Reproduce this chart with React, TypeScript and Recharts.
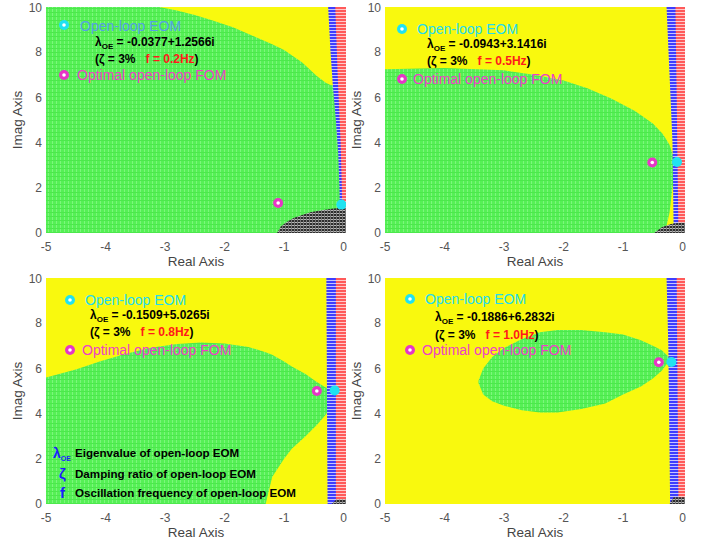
import React from "react";
import { ComposedChart, Area, Scatter, XAxis, YAxis } from "recharts";

type Pt = { x: number; y: [number, number] };
type Mark = { x: number; y: number };

const xTicks = [-5, -4, -3, -2, -1, 0];
const yTicks = [0, 2, 4, 6, 8, 10];
const xMax = 0.04;

const fullPlane: Pt[] = [
  { x: -5, y: [0, 10] },
  { x: xMax, y: [0, 10] },
];

// f = 0.2 Hz
const p1Yellow: Pt[] = [
  { x: -3.1, y: [10, 10] },
  { x: -2.8, y: [9.85, 10] },
  { x: -2.5, y: [9.65, 10] },
  { x: -2.2, y: [9.4, 10] },
  { x: -1.86, y: [9.1, 10] },
  { x: -1.5, y: [8.7, 10] },
  { x: -1.2, y: [8.35, 10] },
  { x: -1.0, y: [8.1, 10] },
  { x: -0.7, y: [7.55, 10] },
  { x: -0.45, y: [6.95, 10] },
  { x: -0.3, y: [6.65, 10] },
  { x: -0.22, y: [6.55, 10] },
  { x: -0.1, y: [6.5, 10] },
];
const p1Blue: Pt[] = [
  { x: -0.26, y: [10, 10] },
  { x: -0.22, y: [8, 10] },
  { x: -0.18, y: [6.5, 10] },
  { x: -0.13, y: [5, 10] },
  { x: -0.09, y: [3.5, 10] },
  { x: -0.07, y: [2, 10] },
  { x: -0.06, y: [0, 10] },
  { x: xMax, y: [0, 10] },
];
const p1Red: Pt[] = [
  { x: -0.14, y: [10, 10] },
  { x: -0.1, y: [7, 10] },
  { x: -0.05, y: [4, 10] },
  { x: -0.03, y: [2, 10] },
  { x: -0.02, y: [0, 10] },
  { x: xMax, y: [0, 10] },
];
const p1Black: Pt[] = [
  { x: -1.12, y: [0, 0] },
  { x: -1.05, y: [0, 0.3] },
  { x: -0.95, y: [0, 0.5] },
  { x: -0.84, y: [0, 0.66] },
  { x: -0.7, y: [0, 0.8] },
  { x: -0.56, y: [0, 0.92] },
  { x: -0.4, y: [0, 1.0] },
  { x: -0.2, y: [0, 1.07] },
  { x: -0.05, y: [0, 1.12] },
  { x: xMax, y: [0, 1.12] },
];

// f = 0.5 Hz
const p2Green: Pt[] = [
  { x: -5, y: [0, 7.25] },
  { x: -4, y: [0, 7.3] },
  { x: -3, y: [0, 7.2] },
  { x: -2.5, y: [0, 7.0] },
  { x: -2, y: [0, 6.75] },
  { x: -1.6, y: [0, 6.4] },
  { x: -1.2, y: [0, 5.95] },
  { x: -0.8, y: [0, 5.4] },
  { x: -0.5, y: [0, 4.85] },
  { x: -0.34, y: [0, 4.4] },
  { x: -0.29, y: [0.1, 4.2] },
  { x: -0.22, y: [0.9, 3.9] },
  { x: -0.17, y: [2.0, 3.5] },
  { x: -0.12, y: [2.8, 3.3] },
];
const p2Blue: Pt[] = [
  { x: -0.27, y: [10, 10] },
  { x: -0.22, y: [7, 10] },
  { x: -0.17, y: [4, 10] },
  { x: -0.15, y: [0, 10] },
  { x: xMax, y: [0, 10] },
];
const p2Red: Pt[] = [
  { x: -0.12, y: [10, 10] },
  { x: -0.1, y: [6, 10] },
  { x: -0.07, y: [0, 10] },
  { x: xMax, y: [0, 10] },
];
const p2Black: Pt[] = [
  { x: -0.48, y: [0, 0] },
  { x: -0.35, y: [0, 0.25] },
  { x: -0.2, y: [0, 0.4] },
  { x: -0.05, y: [0, 0.45] },
  { x: xMax, y: [0, 0.45] },
];

// f = 0.8 Hz
const p3Green: Pt[] = [
  { x: -5, y: [0, 5.6] },
  { x: -4.5, y: [0, 5.95] },
  { x: -4.1, y: [0, 6.3] },
  { x: -3.7, y: [0, 6.62] },
  { x: -3.27, y: [0, 6.9] },
  { x: -2.8, y: [0, 7.08] },
  { x: -2.4, y: [0, 7.15] },
  { x: -2, y: [0, 7.1] },
  { x: -1.6, y: [0, 6.95] },
  { x: -1.31, y: [0, 6.72] },
  { x: -1.2, y: [1.2, 6.6] },
  { x: -1.0, y: [2.0, 6.3] },
  { x: -0.87, y: [2.45, 6.08] },
  { x: -0.64, y: [3.0, 5.75] },
  { x: -0.45, y: [3.5, 5.4] },
  { x: -0.3, y: [3.95, 5.15] },
  { x: -0.2, y: [4.4, 5.0] },
  { x: -0.15, y: [4.7, 4.9] },
];
const p3Blue: Pt[] = [
  { x: -0.29, y: [10, 10] },
  { x: -0.27, y: [0, 10] },
  { x: xMax, y: [0, 10] },
];
const p3Red: Pt[] = [
  { x: -0.13, y: [0, 10] },
  { x: xMax, y: [0, 10] },
];
const p3Black: Pt[] = [
  { x: -0.2, y: [0, 0] },
  { x: -0.12, y: [0, 0.2] },
  { x: xMax, y: [0, 0.2] },
];

// f = 1.0 Hz
const p4Green: Pt[] = [
  { x: -3.43, y: [5.35, 5.45] },
  { x: -3.35, y: [4.85, 6.0] },
  { x: -3.2, y: [4.55, 6.5] },
  { x: -3.0, y: [4.35, 6.9] },
  { x: -2.7, y: [4.15, 7.3] },
  { x: -2.4, y: [4.05, 7.6] },
  { x: -2.1, y: [4.05, 7.7] },
  { x: -1.7, y: [4.2, 7.7] },
  { x: -1.3, y: [4.45, 7.6] },
  { x: -1.0, y: [4.85, 7.5] },
  { x: -0.7, y: [5.2, 7.25] },
  { x: -0.5, y: [5.55, 7.0] },
  { x: -0.35, y: [5.9, 6.8] },
  { x: -0.25, y: [6.25, 6.55] },
  { x: -0.22, y: [6.4, 6.45] },
];
const p4Blue: Pt[] = [
  { x: -0.27, y: [10, 10] },
  { x: -0.24, y: [7, 10] },
  { x: -0.21, y: [0, 10] },
  { x: xMax, y: [0, 10] },
];
const p4Red: Pt[] = [
  { x: -0.1, y: [10, 10] },
  { x: -0.07, y: [0, 10] },
  { x: xMax, y: [0, 10] },
];
const p4Black: Pt[] = [
  { x: -0.22, y: [0, 0] },
  { x: -0.15, y: [0, 0.3] },
  { x: xMax, y: [0, 0.3] },
];

const eomPoints: Mark[] = [
  { x: -0.0377, y: 1.2566 },
  { x: -0.0943, y: 3.1416 },
  { x: -0.1509, y: 5.0265 },
  { x: -0.1886, y: 6.2832 },
];
const fomPoints: Mark[] = [
  { x: -1.1, y: 1.33 },
  { x: -0.51, y: 3.12 },
  { x: -0.45, y: 5.0 },
  { x: -0.4, y: 6.27 },
];
const lambdaLabels = [
  "-0.0377+1.2566i",
  "-0.0943+3.1416i",
  "-0.1509+5.0265i",
  "-0.1886+6.2832i",
];
const freqLabels = ["0.2Hz", "0.5Hz", "0.8Hz", "1.0Hz"];

type Layer = { data: Pt[]; fill: string };
type Pos = { mx: number; my: number; tx: number; ty: number; lx: number; ly: number; zy: number; fy: number; fx: number };

const Patterns = ({ id }: { id: string }) => (
  <defs>
    <pattern id={`${id}-green`} width={4} height={4} patternUnits="userSpaceOnUse">
      <rect width={4} height={4} fill="#56f056" />
      <rect width={1} height={4} fill="#7cf67c" />
      <rect width={4} height={1} fill="#4ce84c" />
    </pattern>
    <pattern id={`${id}-yellow`} width={4} height={4} patternUnits="userSpaceOnUse">
      <rect width={4} height={4} fill="#f9f90e" />
    </pattern>
    <pattern id={`${id}-blue`} width={3} height={3} patternUnits="userSpaceOnUse">
      <rect width={3} height={3} fill="#3d3dff" />
      <rect width={3} height={1} fill="#c4c4ff" />
    </pattern>
    <pattern id={`${id}-red`} width={3} height={3} patternUnits="userSpaceOnUse">
      <rect width={3} height={3} fill="#ff5a5a" />
      <rect width={3} height={1} fill="#ffcaca" />
    </pattern>
    <pattern id={`${id}-black`} width={3} height={3} patternUnits="userSpaceOnUse">
      <rect width={3} height={3} fill="#2e2e2e" />
      <rect width={3} height={1} fill="#b8b8b8" />
      <rect width={1} height={3} fill="#777" />
    </pattern>
  </defs>
);

const EomDot = (props: any) => (
  <circle cx={props.cx} cy={props.cy} r={5} fill="#20e2f0" />
);
const FomDot = (props: any) => (
  <g>
    <circle cx={props.cx} cy={props.cy} r={5} fill="#e636c6" />
    <circle cx={props.cx} cy={props.cy} r={1.8} fill="#fff" />
  </g>
);

const RingMark = ({ x, y, color }: { x: number; y: number; color: string }) => (
  <svg style={{ position: "absolute", left: x - 6, top: y - 6 }} width={12} height={12}>
    <circle cx={6} cy={6} r={5} fill={color} />
    <circle cx={6} cy={6} r={1.8} fill="#fff" />
  </svg>
);

const T = ({ x, y, size, color, bold, children }: any) => (
  <div
    style={{
      position: "absolute",
      left: x,
      top: y - 9,
      height: 18,
      lineHeight: "18px",
      fontSize: size,
      color,
      fontWeight: bold ? 700 : 400,
      whiteSpace: "pre",
    }}
  >
    {children}
  </div>
);

type PanelCfg = {
  id: string;
  left: number;
  top: number;
  base: string;
  layers: Layer[];
  idx: number;
  eomColor: string;
  pos: Pos;
  legend?: boolean;
};

const Panel = ({ cfg }: { cfg: PanelCfg }) => {
  const p = cfg.id;
  const i = cfg.idx;
  const pos = cfg.pos;
  return (
    <div style={{ position: "absolute", left: cfg.left, top: cfg.top, width: 349, height: 272 }}>
      <ComposedChart width={349} height={272} margin={{ top: 7, right: 3, left: 0, bottom: 0 }}>
        <Patterns id={p} />
        <XAxis
          type="number"
          dataKey="x"
          domain={[-5, xMax]}
          ticks={xTicks}
          allowDataOverflow
          axisLine={false}
          tickLine={false}
          tickSize={0}
          tickMargin={9}
          height={39}
          tick={{ fontSize: 12, fill: "#555" }}
          label={{ value: "Real Axis", position: "insideBottom", offset: 6, fontSize: 13.5, fill: "#444" }}
        />
        <YAxis
          type="number"
          domain={[0, 10]}
          ticks={yTicks}
          allowDataOverflow
          axisLine={false}
          tickLine={false}
          tickSize={2}
          tickMargin={2}
          width={46}
          tick={{ fontSize: 12, fill: "#555" }}
          label={{ value: "Imag Axis", angle: -90, position: "center", dx: -6, fontSize: 13.5, fill: "#444" }}
        />
        <Area data={fullPlane} dataKey="y" type="linear" fill={`url(#${p}-${cfg.base})`} fillOpacity={1} stroke="none" dot={false} activeDot={false} isAnimationActive={false} />
        {cfg.layers.map((l, k) => (
          <Area key={k} data={l.data} dataKey="y" type="linear" fill={`url(#${p}-${l.fill})`} fillOpacity={1} stroke="none" dot={false} activeDot={false} isAnimationActive={false} />
        ))}
        <Scatter data={[fomPoints[i]]} dataKey="y" shape={FomDot} isAnimationActive={false} />
        <Scatter data={[eomPoints[i]]} dataKey="y" shape={EomDot} isAnimationActive={false} />
      </ComposedChart>

      <RingMark x={pos.mx} y={pos.my} color="#20e2f0" />
      <T x={pos.tx} y={pos.ty} size={14} color={cfg.eomColor}>Open-loop EOM</T>
      <T x={pos.lx} y={pos.ly} size={12} color="#000" bold>
        λ<span style={{ fontSize: 8, verticalAlign: -3 }}>OE</span> = {lambdaLabels[i]}
      </T>
      <T x={pos.lx} y={pos.zy} size={12} color="#000" bold>
        (ζ = 3%{"   "}<span style={{ color: "#ff1a1a" }}>f = {freqLabels[i]}</span>)
      </T>
      <RingMark x={pos.mx} y={pos.fy} color="#e636c6" />
      <T x={pos.fx} y={pos.fy} size={14} color="#ee40c8">Optimal open-loop FOM</T>

      {cfg.legend && (
        <>
          <T x={53} y={182} size={14} color="#1c1cff" bold>
            λ<span style={{ fontSize: 7, verticalAlign: -3 }}>OE</span>
          </T>
          <T x={75} y={182} size={11.6} color="#000" bold>Eigenvalue of open-loop EOM</T>
          <T x={59} y={203} size={15} color="#1c1cff" bold>ζ</T>
          <T x={75} y={203} size={11.6} color="#000" bold>Damping ratio of open-loop EOM</T>
          <T x={60} y={222} size={15} color="#1c1cff" bold>f</T>
          <T x={75} y={222} size={11.6} color="#000" bold>Oscillation frequency of open-loop EOM</T>
        </>
      )}
    </div>
  );
};

const panels: PanelCfg[] = [
  {
    id: "a", left: 0, top: 0, base: "green", idx: 0, eomColor: "#55a0e6",
    layers: [
      { data: p1Yellow, fill: "yellow" },
      { data: p1Blue, fill: "blue" },
      { data: p1Red, fill: "red" },
      { data: p1Black, fill: "black" },
    ],
    pos: { mx: 64, my: 25, tx: 80, ty: 26, lx: 95, ly: 42, zy: 59, fy: 75, fx: 77 },
  },
  {
    id: "b", left: 339, top: 0, base: "yellow", idx: 1, eomColor: "#22dcef",
    layers: [
      { data: p2Green, fill: "green" },
      { data: p2Blue, fill: "blue" },
      { data: p2Red, fill: "red" },
      { data: p2Black, fill: "black" },
    ],
    pos: { mx: 63, my: 29, tx: 78, ty: 29, lx: 88, ly: 44, zy: 61, fy: 79, fx: 74 },
  },
  {
    id: "c", left: 0, top: 271, base: "yellow", idx: 2, eomColor: "#22dcef", legend: true,
    layers: [
      { data: p3Green, fill: "green" },
      { data: p3Blue, fill: "blue" },
      { data: p3Red, fill: "red" },
      { data: p3Black, fill: "black" },
    ],
    pos: { mx: 70, my: 29, tx: 85, ty: 29, lx: 90, ly: 44, zy: 61, fy: 79, fx: 82 },
  },
  {
    id: "d", left: 339, top: 271, base: "yellow", idx: 3, eomColor: "#22dcef",
    layers: [
      { data: p4Green, fill: "green" },
      { data: p4Blue, fill: "blue" },
      { data: p4Red, fill: "red" },
      { data: p4Black, fill: "black" },
    ],
    pos: { mx: 71, my: 28, tx: 86, ty: 28, lx: 96, ly: 46, zy: 64, fy: 79, fx: 83 },
  },
];

export default function App() {
  return (
    <div
      style={{
        position: "absolute",
        left: 0,
        top: 0,
        width: 709,
        height: 546,
        background: "#fff",
        overflow: "hidden",
        fontFamily: '"Liberation Sans", Arial, sans-serif',
      }}
    >
      {panels.map((c) => (
        <Panel key={c.id} cfg={c} />
      ))}
    </div>
  );
}
